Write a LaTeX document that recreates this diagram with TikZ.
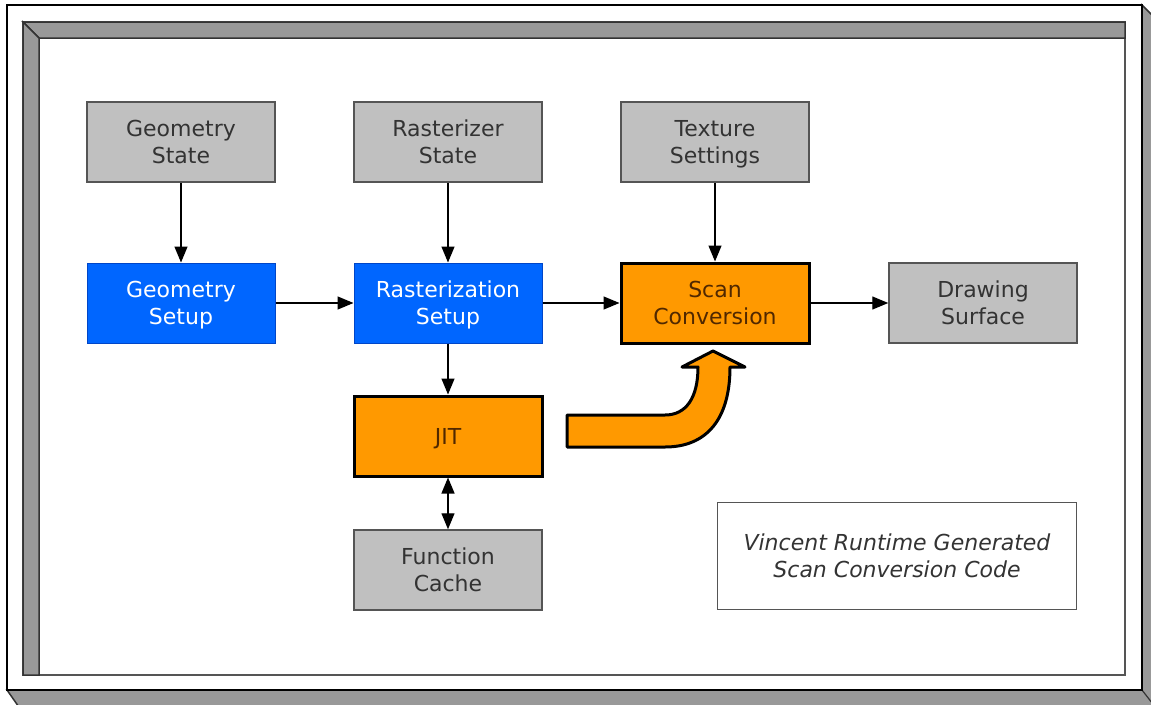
\documentclass[tikz,border=0pt]{standalone}
\usepackage{fontspec}
\setmainfont{DejaVu Sans}
\usetikzlibrary{arrows.meta}
\newcommand{\lnstrut}{\rule[-5.5pt]{0pt}{27pt}}
\definecolor{boxgray}{RGB}{192,192,192}
\definecolor{boxline}{RGB}{85,85,85}
\definecolor{txtgray}{RGB}{51,51,51}
\definecolor{vblue}{RGB}{0,102,255}
\definecolor{vblueline}{RGB}{0,70,200}
\definecolor{vorange}{RGB}{255,153,0}
\definecolor{vbrown}{RGB}{80,40,0}
\definecolor{framegray}{RGB}{153,153,153}
\definecolor{frameline}{RGB}{51,51,51}
\tikzset{
  basebox/.style={minimum width=188pt, minimum height=80pt, inner sep=0pt, align=center,
    font=\fontsize{22}{27}\selectfont},
  graybox/.style={basebox, fill=boxgray, draw=boxline, line width=1.5pt, text=txtgray},
  bluebox/.style={basebox, fill=vblue, draw=vblueline, line width=1pt, text=white},
  orangebox/.style={basebox, fill=vorange, draw=black, line width=3pt, text=vbrown},
  notebox/.style={minimum width=359pt, minimum height=107pt, inner sep=0pt, align=center,
    fill=white, draw=boxline, line width=1.5pt, text=txtgray,
    font=\fontsize{22}{27}\selectfont\itshape},
  conn/.style={line width=1.3pt, draw=black, -{Triangle[length=16pt,width=13pt]}},
  dconn/.style={line width=1.3pt, draw=black, {Triangle[length=16pt,width=13pt]}-{Triangle[length=16pt,width=13pt]}},
  framestrip/.style={fill=framegray, draw=frameline, line width=1.5pt, line join=miter},
}
\begin{document}
\begin{tikzpicture}[x=1pt,y=-1pt]
\useasboundingbox (0,0) rectangle (1151,704);
\clip (0,0) rectangle (1151,704);
\fill[white] (0,0) rectangle (1151,704);
% outer bevel
\filldraw[framestrip] (1142,5) -- (1156,19) -- (1156,710) -- (21,710) -- (7,690) -- (1142,690) -- cycle;
\draw[frameline, line width=1.2pt] (1142,690) -- (1156,708);
\draw[fill=white, draw=black, line width=1.5pt] (7,5) rectangle (1142,690);
% inner recessed frame
\draw[fill=white, draw=boxline, line width=1.5pt] (23,22) rectangle (1125,675);
\filldraw[framestrip] (23,22) -- (1125,22) -- (1125,38) -- (39,38) -- cycle;
\filldraw[framestrip] (23,22) -- (39,38) -- (39,675) -- (23,675) -- cycle;

% nodes
\node[graybox] (gstate) at (181,142) {Geometry\lnstrut\\State\lnstrut};
\node[graybox] (rstate) at (448,142) {Rasterizer\lnstrut\\State\lnstrut};
\node[graybox] (tset) at (715,142) {Texture\lnstrut\\Settings\lnstrut};
\node[bluebox] (gsetup) at (181,303) {Geometry\lnstrut\\Setup\lnstrut};
\node[bluebox] (rsetup) at (448,303) {Rasterization\lnstrut\\Setup\lnstrut};
\node[orangebox] (scan) at (715,303) {Scan\lnstrut\\Conversion\lnstrut};
\node[graybox] (dsurf) at (983,303) {Drawing\lnstrut\\Surface\lnstrut};
\node[orangebox] (jit) at (448,436) {JIT\lnstrut};
\node[graybox] (fcache) at (448,570) {Function\lnstrut\\Cache\lnstrut};
\node[notebox] (note) at (897,556) {Vincent Runtime Generated\lnstrut\\Scan Conversion Code\lnstrut};

% connectors
\draw[conn] (gstate) -- (gsetup);
\draw[conn] (rstate) -- (rsetup);
\draw[conn] (tset) -- (scan);
\draw[conn] (gsetup) -- (rsetup);
\draw[conn] (rsetup) -- (scan);
\draw[conn] (scan) -- (dsurf);
\draw[conn] (rsetup) -- (jit);
\draw[dconn] (jit) -- (fcache);

% big curved arrow
\filldraw[fill=vorange, draw=black, line width=3pt, line join=round]
  (567,415) -- (665,415)
  .. controls (686,415) and (698,398) .. (698,367)
  -- (682,367) -- (713,351) -- (745,367) -- (730,367)
  .. controls (730,420) and (706,447) .. (665,447)
  -- (567,447) -- cycle;
\end{tikzpicture}
\end{document}
